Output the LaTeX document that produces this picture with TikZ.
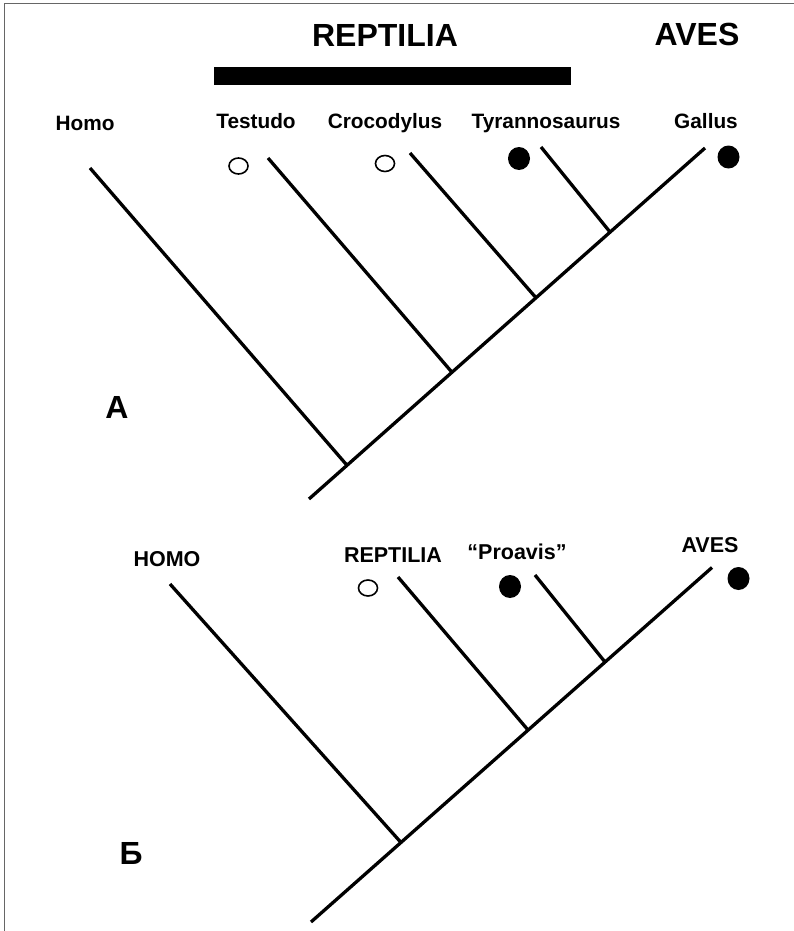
\documentclass[tikz,border=0pt]{standalone}
\usepackage{fontspec}
\setmainfont{Liberation Sans}
\begin{document}
\begin{tikzpicture}[x=1pt,y=-1pt,
  branch/.style={line width=3.3pt,line cap=butt},
  taxon/.style={font=\fontsize{20.8}{22}\selectfont\bfseries,inner sep=0pt,anchor=base},
  taxonB/.style={font=\fontsize{21.5}{23}\selectfont\bfseries,inner sep=0pt,anchor=base},
  group/.style={font=\fontsize{32}{34}\selectfont\bfseries,inner sep=0pt,anchor=base},
  panel/.style={font=\fontsize{32}{34}\selectfont\bfseries,inner sep=0pt,anchor=base},
  opendot/.style={draw,line width=1.6pt,fill=white},
  fulldot/.style={fill=black}]
\useasboundingbox (0,0) rectangle (794,931);
% frame (top and left edges)
\draw[line width=1.6pt,black!60] (794,3.5) -- (4.5,3.5) -- (4.5,931);

% ---------- tree A ----------
\node[group] (reptA) at (385,46.5) {REPTILIA};
\node[group] (avesA) at (697,45.7) {AVES};
\fill (214,67) rectangle (571,85);

\node[taxon] (homoA) at (85,130.5) {Homo};
\node[taxon] (testudo) at (256,128.5) {Testudo};
\node[taxon] (croco) at (385,128.5) {Crocodylus};
\node[taxon] (tyr) at (546,128.5) {Tyrannosaurus};
\node[taxon] (gallus) at (706,128.5) {Gallus};

\coordinate (rootA) at (309,499);
\coordinate (topA) at (705,148);
\coordinate (nHomoA) at (347,465.3);
\coordinate (nTest) at (452,372.3);
\coordinate (nCroc) at (536,297.8);
\coordinate (nTyr) at (610,232);
\coordinate (tipHomoA) at (90,168);
\coordinate (tipTest) at (268,158);
\coordinate (tipCroc) at (410,153);
\coordinate (tipTyr) at (541,147);

\draw[branch] (rootA) -- (topA);
\draw[branch] (tipHomoA) -- (nHomoA);
\draw[branch] (tipTest) -- (nTest);
\draw[branch] (tipCroc) -- (nCroc);
\draw[branch] (tipTyr) -- (nTyr);

\path[opendot] (238.5,166) ellipse [x radius=9.5, y radius=8];
\path[opendot] (385,163.5) ellipse [x radius=9.5, y radius=8];
\path[fulldot] (519,158.5) ellipse [x radius=11, y radius=11.5];
\path[fulldot] (728.5,157) ellipse [x radius=11, y radius=11.5];

\node[panel] (labA) at (117,418) {А};

% ---------- tree B ----------
\node[taxonB] (homoB) at (167,566) {HOMO};
\node[taxonB] (reptB) at (393,562.7) {REPTILIA};
\node[taxonB] (proavis) at (517,559) {“Proavis”};
\node[taxonB] (avesB) at (710,552.5) {AVES};

\coordinate (rootB) at (311,922);
\coordinate (topB) at (712,567.5);
\coordinate (nHomoB) at (401,842.5);
\coordinate (nRept) at (528,730);
\coordinate (nProa) at (605,662);
\coordinate (tipHomoB) at (170,584);
\coordinate (tipRept) at (398,577);
\coordinate (tipProa) at (535,575);

\draw[branch] (rootB) -- (topB);
\draw[branch] (tipHomoB) -- (nHomoB);
\draw[branch] (tipRept) -- (nRept);
\draw[branch] (tipProa) -- (nProa);

\path[opendot] (368,588) ellipse [x radius=9.5, y radius=8];
\path[fulldot] (510,586.5) ellipse [x radius=11, y radius=11.5];
\path[fulldot] (738.5,578.5) ellipse [x radius=11, y radius=11.5];

\node[panel] (labB) at (131,864) {Б};
\end{tikzpicture}
\end{document}
